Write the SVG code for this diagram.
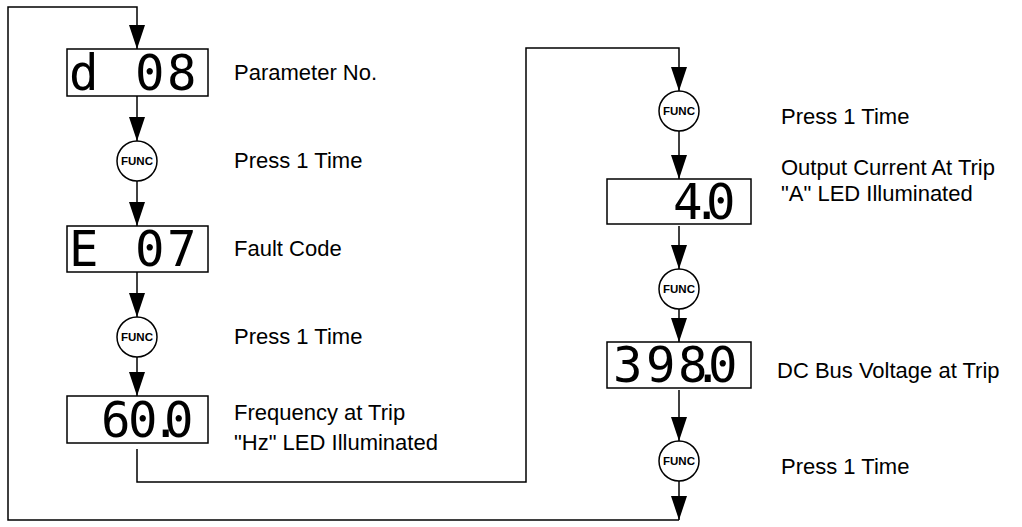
<svg xmlns="http://www.w3.org/2000/svg" width="1022" height="527" viewBox="0 0 1022 527">
<defs>
<style>
.box{fill:#fff;stroke:#000;stroke-width:1.5}
.btn{fill:#fff;stroke:#000;stroke-width:1.5}
.btxt{font-family:"Liberation Sans",Arial,sans-serif;font-size:11.5px;font-weight:bold;text-anchor:middle;fill:#000}
.lbl{font-family:"Liberation Sans",Arial,sans-serif;font-size:22px;fill:#000}
.seg{font-family:"DejaVu Sans Mono",monospace;font-size:49px;fill:#000}
.ln{fill:none;stroke:#000;stroke-width:1.5}
</style>
<marker id="a" markerUnits="userSpaceOnUse" markerWidth="24" markerHeight="16" viewBox="0 0 24 16" refX="24" refY="8" orient="auto">
<path d="M0,0 L24,8 L0,16 Z" fill="#000"/>
</marker>
</defs>
<g id="connectors">
<path class="ln" d="M679,481 V520" marker-end="url(#a)"/>
<path class="ln" d="M679,520 H8 V7 H137 V49" marker-end="url(#a)"/>
<path class="ln" d="M137,96 V141" marker-end="url(#a)"/>
<path class="ln" d="M137,181 V226" marker-end="url(#a)"/>
<path class="ln" d="M137,272 V317" marker-end="url(#a)"/>
<path class="ln" d="M137,357 V396" marker-end="url(#a)"/>
<path class="ln" d="M137,449 V482 H526 V48 H679 V91" marker-end="url(#a)"/>
<path class="ln" d="M679,131 V179" marker-end="url(#a)"/>
<path class="ln" d="M679,226 V269" marker-end="url(#a)"/>
<path class="ln" d="M679,309 V342" marker-end="url(#a)"/>
<path class="ln" d="M679,390 V441" marker-end="url(#a)"/>
</g>
<g id="display1">
<rect class="box" x="67" y="49" width="141" height="47"/>
<text class="seg" x="69 135 167" y="90">d08</text>
<text class="lbl" x="234" y="80">Parameter No.</text>
</g>
<g id="func1">
<circle class="btn" cx="137" cy="161" r="20"/>
<text class="btxt" x="137" y="165">FUNC</text>
<text class="lbl" x="234" y="168">Press 1 Time</text>
</g>
<g id="display2">
<rect class="box" x="67" y="226" width="141" height="46"/>
<text class="seg" x="69 135 167" y="266">E07</text>
<text class="lbl" x="234" y="256">Fault Code</text>
</g>
<g id="func2">
<circle class="btn" cx="137" cy="337" r="20"/>
<text class="btxt" x="137" y="341">FUNC</text>
<text class="lbl" x="234" y="344">Press 1 Time</text>
</g>
<g id="display3">
<rect class="box" x="67" y="396" width="141" height="47"/>
<text class="seg" x="101 128 151 164" y="437">60.0</text>
<text class="lbl" x="234" y="420">Frequency at Trip</text>
<text class="lbl" x="234" y="450">"Hz" LED Illuminated</text>
</g>
<g id="func3">
<circle class="btn" cx="679" cy="111" r="20"/>
<text class="btxt" x="679" y="115">FUNC</text>
<text class="lbl" x="781" y="124">Press 1 Time</text>
</g>
<g id="display4">
<rect class="box" x="607" y="179" width="144" height="45"/>
<text class="seg" x="673 692 706" y="219">4.0</text>
<text class="lbl" x="781" y="175">Output Current At Trip</text>
<text class="lbl" x="781" y="201">"A" LED Illuminated</text>
</g>
<g id="func4">
<circle class="btn" cx="679" cy="289" r="20"/>
<text class="btxt" x="679" y="293">FUNC</text>
</g>
<g id="display5">
<rect class="box" x="607" y="342" width="144" height="46"/>
<text class="seg" x="613 646 678 693 708" y="382">398.0</text>
<text class="lbl" x="777" y="378">DC Bus Voltage at Trip</text>
</g>
<g id="func5">
<circle class="btn" cx="679" cy="461" r="20"/>
<text class="btxt" x="679" y="465">FUNC</text>
<text class="lbl" x="781" y="474">Press 1 Time</text>
</g>
</svg>
